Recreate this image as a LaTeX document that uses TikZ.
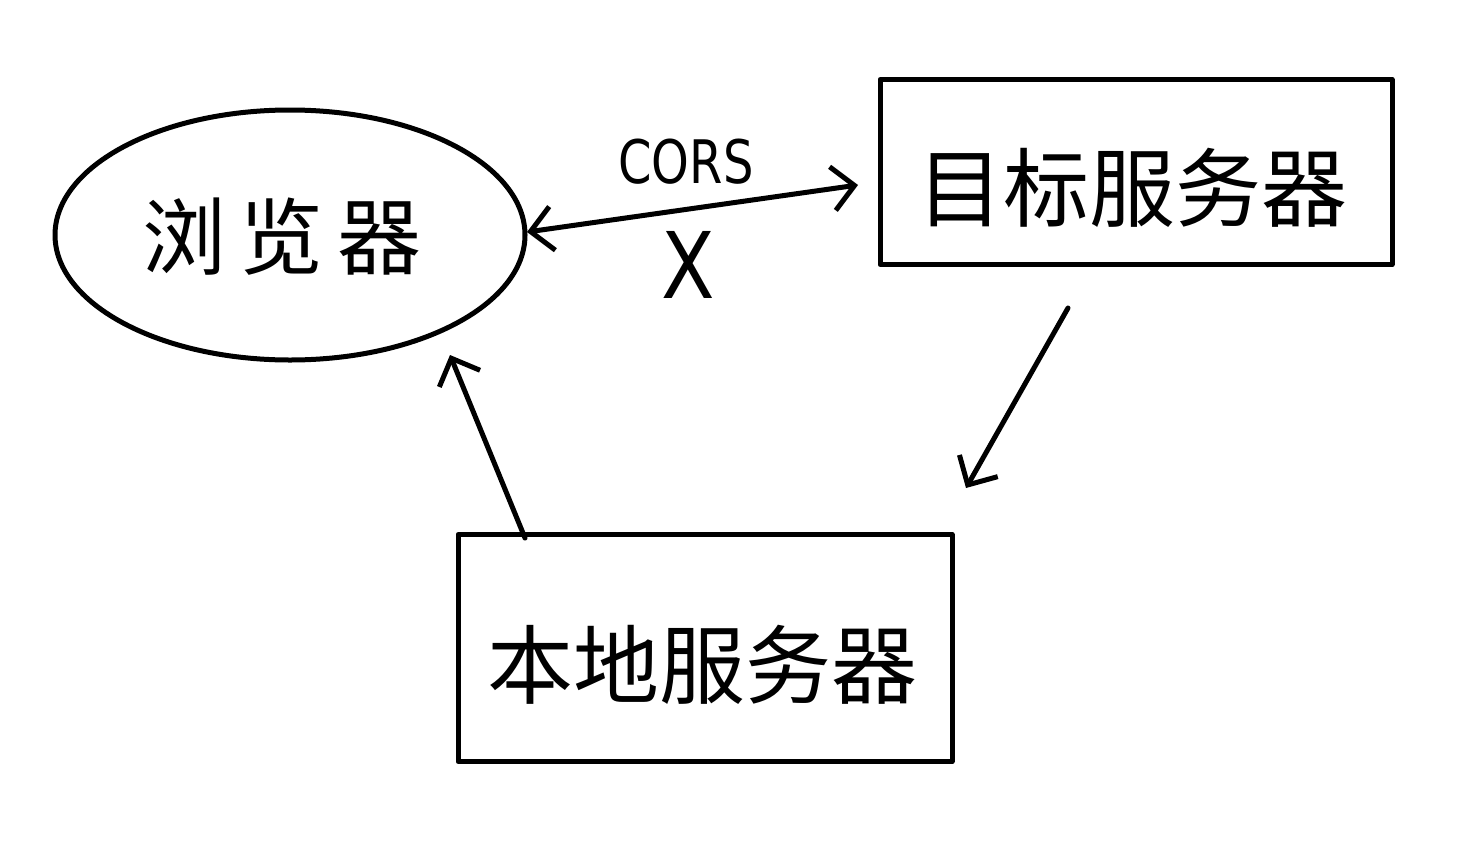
\documentclass[tikz,border=0pt]{standalone}
\usepackage{fontspec}
\newfontfamily\cjk{Noto Sans CJK SC}
\setsansfont{DejaVu Sans}
\usetikzlibrary{shapes.geometric,arrows.meta,calc}
\tikzset{
  hand/.style={line width=5pt, line cap=round, line join=round},
  boxnode/.style={hand, draw, rectangle, inner sep=0pt, font=\cjk\fontsize{86}{90}\selectfont},
  ovalnode/.style={hand, draw, ellipse, inner sep=0pt, font=\cjk\fontsize{84}{90}\selectfont},
  arr/.style={hand, -{Straight Barb[length=22pt,width=44pt,line width=5pt]}},
  darr/.style={hand, {Straight Barb[length=22pt,width=44pt,line width=5pt]}-{Straight Barb[length=22pt,width=44pt,line width=5pt]}},
  lbl/.style={font=\sffamily\fontsize{60}{64}\selectfont, xscale=0.8}
}
\begin{document}
\begin{tikzpicture}[x=1pt,y=-1pt]
\useasboundingbox (0,0) rectangle (1481,849);
\node[ovalnode, minimum width=470pt, minimum height=250pt] (browser) at (290,235) {};
\node[font=\cjk\fontsize{84}{90}\selectfont] (browsertext) at (282,237) {浏\,览\,器};
\node[boxnode, minimum width=512pt, minimum height=185pt] (target) at (1136,172) {};
\node[font=\cjk\fontsize{86}{90}\selectfont] (targettext) at (1132,188) {目标服务器};
\node[boxnode, minimum width=494pt, minimum height=227pt] (local) at (705,648) {};
\node[font=\cjk\fontsize{86}{90}\selectfont] (localtext) at (702,665) {本地服务器};
\coordinate (b1) at (527,232);
\coordinate (t1) at (858,185);
\draw[darr] (b1) -- (t1);
\node[lbl] (cors) at (686,162) {CORS};
\node[font=\sffamily\fontsize{92}{96}\selectfont, xscale=0.85] (x) at (688,265) {X};
\coordinate (t2) at (1068,308);
\coordinate (l2) at (966,488);
\draw[arr] (t2) -- (l2);
\coordinate (l3) at (525,538);
\coordinate (b3) at (450,355);
\draw[arr] (l3) -- (b3);
\end{tikzpicture}
\end{document}
